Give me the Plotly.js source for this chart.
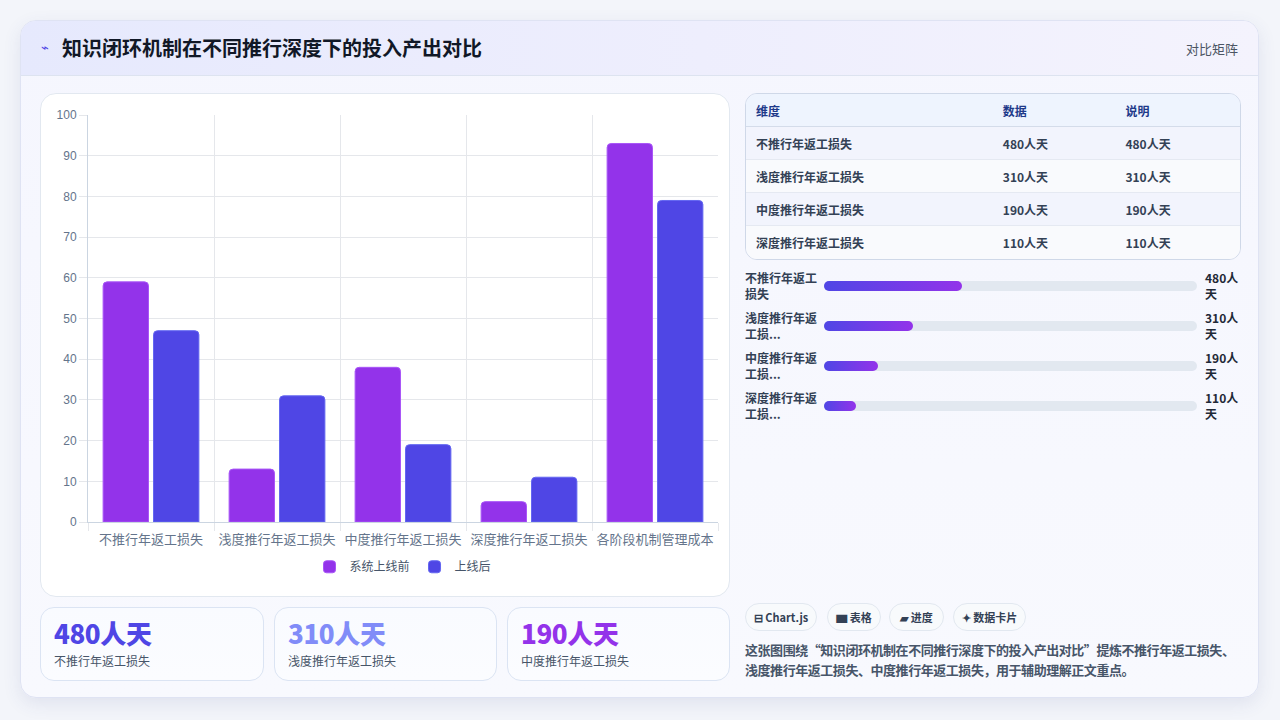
<!DOCTYPE html>
<html lang="zh">
<head>
<meta charset="utf-8">
<script src="https://cdn.plot.ly/plotly-3.0.1.min.js"></script>
<style>
  * { box-sizing: border-box; margin: 0; padding: 0; }
  body {
    width: 1280px; height: 720px; overflow: hidden;
    background: #f3f5fa;
    font-family: "Noto Sans CJK SC", "Noto Sans", sans-serif;
    color: #1f2937;
  }
  .card {
    position: absolute; left: 20px; top: 20px; width: 1239px; height: 678px;
    border-radius: 16px; border: 1px solid #dfe3f3;
    background: linear-gradient(180deg, #f5f6fe 0%, #f8f9fe 100%);
    box-shadow: 0 6px 18px rgba(60, 70, 140, 0.10);
    overflow: hidden;
  }
  .header {
    position: absolute; left: 0; top: 0; width: 100%; height: 55px;
    background: linear-gradient(90deg, #e6e9fd 0%, #eeeefd 55%, #f4f3fd 100%);
    border-bottom: 1px solid #dde3f0;
  }
  .header .icon { position: absolute; left: 20px; top: 16px; font-size: 13px; color: #4f46e5; }
  .header h1 { position: absolute; left: 41px; top: 13px; font-size: 20px; font-weight: 700; color: #111827; line-height: 28px; }
  .header .tag { position: absolute; right: 20px; top: 18px; font-size: 13px; color: #4b5563; }
  .chartbox {
    position: absolute; left: 19px; top: 72px; width: 690px; height: 504px;
    background: #ffffff; border: 1px solid #e2e8f0; border-radius: 16px;
  }
  #chart { position: absolute; left: 0; top: 0; width: 688px; height: 502px; }
  .kpi {
    position: absolute; top: 586px; height: 74px;
    border: 1px solid #dbe4f3; border-radius: 14px;
    background: linear-gradient(180deg, #f9fbff 0%, #fbfcff 100%);
  }
  .kpi .num { position: absolute; left: 13px; top: 8px; font-size: 26px; font-weight: 800; line-height: 34px; letter-spacing: -0.4px; }
  .kpi .lbl { position: absolute; left: 13px; top: 44px; font-size: 12px; color: #475569; line-height: 18px; }
  table.tbl {
    position: absolute; left: 724px; top: 72px; width: 496px;
    border-collapse: separate; border-spacing: 0;
    border: 1px solid #cfd8e8; border-radius: 12px; overflow: hidden;
    font-size: 12px; font-weight: 700;
  }
  table.tbl th, table.tbl td { height: 33px; padding: 0 10px; text-align: left; }
  table.tbl th { background: #eef4fe; color: #1e3a8a; border-bottom: 1px solid #d4dcea; }
  table.tbl td { color: #334155; border-bottom: 1px solid #e5e9f2; }
  table.tbl tr:last-child td { border-bottom: none; }
  table.tbl tbody tr:nth-child(odd) td { background: #f2f4fd; }
  table.tbl tbody tr:nth-child(even) td { background: #f9fafd; }
  .prog { position: absolute; left: 724px; width: 496px; height: 40px; }
  .prog .pl { position: absolute; left: 0; top: 0; width: 74px; font-size: 12px; font-weight: 700; color: #334155; line-height: 16px; }
  .prog .track { position: absolute; left: 79px; top: 11px; width: 373px; height: 10px; border-radius: 5px; background: #e2e8f0; }
  .prog .fill { position: absolute; left: 0; top: 0; height: 10px; border-radius: 5px; background: linear-gradient(90deg, #4f46e5, #9333ea); }
  .prog .pv { position: absolute; left: 460px; top: 0; width: 36px; font-size: 12px; font-weight: 700; color: #1f2937; line-height: 16px; }
  .pill {
    position: absolute; top: 582px; height: 28px; line-height: 26px;
    border: 1px solid #e2e8f0; border-radius: 14px; background: #f8fafc;
    font-size: 11px; font-weight: 700; color: #334155; text-align: center;
  }
  .desc { position: absolute; left: 724px; top: 619px; width: 500px; font-size: 13px; font-weight: 700; color: #475569; line-height: 20px; letter-spacing: -0.45px; }
</style>
</head>
<body>
<div class="card">
  <div class="header">
    <span class="icon">⌁</span>
    <h1>知识闭环机制在不同推行深度下的投入产出对比</h1>
    <span class="tag">对比矩阵</span>
  </div>
  <div class="chartbox"><div id="chart"></div></div>
  <div id="kpis"></div>
  <table class="tbl" id="tbl"></table>
  <div id="progs"></div>
  <div class="pill" style="left:724px;width:72px;">⊟ Chart.js</div>
  <div class="pill" style="left:806px;width:54px;">▆ 表格</div>
  <div class="pill" style="left:868px;width:55px;">▰ 进度</div>
  <div class="pill" style="left:932px;width:73px;">✦ 数据卡片</div>
  <div class="desc">这张图围绕“知识闭环机制在不同推行深度下的投入产出对比”提炼不推行年返工损失、浅度推行年返工损失、中度推行年返工损失，用于辅助理解正文重点。</div>
</div>
<script>
// chart data
const categories = ['不推行年返工损失', '浅度推行年返工损失', '中度推行年返工损失', '深度推行年返工损失', '各阶段机制管理成本'];
const seriesNames = ['系统上线前', '上线后'];
const beforeValues = [59, 13, 38, 5, 93];
const afterValues = [47, 31, 19, 11, 79];

// table / progress / kpi data
const tableHeaders = ['维度', '数据', '说明'];
const itemNames = ['不推行年返工损失', '浅度推行年返工损失', '中度推行年返工损失', '深度推行年返工损失'];
const itemValues = [480, 310, 190, 110];
const progressLabels = ['不推行年返工\n损失', '浅度推行年返\n工损...', '中度推行年返\n工损...', '深度推行年返\n工损...'];
const unit = '人天';
const progressMax = 1300;

// table
let html = '<thead><tr>' + tableHeaders.map((h, i) =>
  '<th style="width:' + [248, 123, 125][i] + 'px">' + h + '</th>').join('') + '</tr></thead><tbody>';
for (let i = 0; i < itemNames.length; i++) {
  html += '<tr><td>' + itemNames[i] + '</td><td>' + itemValues[i] + unit + '</td><td>' + itemValues[i] + unit + '</td></tr>';
}
document.getElementById('tbl').innerHTML = html + '</tbody>';

// progress rows
let ph = '';
for (let i = 0; i < itemValues.length; i++) {
  let pct = itemValues[i] / progressMax * 100;
  ph += '<div class="prog" style="top:' + (249 + i * 40) + 'px">' +
    '<div class="pl">' + progressLabels[i].replace('\n', '<br>') + '</div>' +
    '<div class="track"><div class="fill" style="width:' + pct.toFixed(1) + '%"></div></div>' +
    '<div class="pv">' + itemValues[i] + '人<br>天</div></div>';
}
document.getElementById('progs').innerHTML = ph;

// kpi cards (first three items)
const kpiColors = ['#4f46e5', '#818cf8', '#9333ea'];
const kpiLeft = [19, 253, 486];
const kpiWidth = [224, 223, 223];
let kh = '';
for (let i = 0; i < 3; i++) {
  kh += '<div class="kpi" style="left:' + kpiLeft[i] + 'px;width:' + kpiWidth[i] + 'px">' +
    '<div class="num" style="color:' + kpiColors[i] + '">' + itemValues[i] + unit + '</div>' +
    '<div class="lbl">' + itemNames[i] + '</div></div>';
}
document.getElementById('kpis').innerHTML = kh;

// bar chart
const tickFont = { family: '"Liberation Sans", "Noto Sans CJK SC", sans-serif', size: 12, color: '#64748b' };
let traceBefore = {
  x: categories, y: beforeValues, name: seriesNames[0], type: 'bar',
  marker: { color: '#9333ea', line: { color: '#a855f7', width: 1 } }
};
let traceAfter = {
  x: categories, y: afterValues, name: seriesNames[1], type: 'bar',
  marker: { color: '#4f46e5', line: { color: '#6366f1', width: 1 } }
};

let layout = {
  width: 688, height: 502,
  margin: { l: 47, r: 11, t: 21, b: 74 },
  paper_bgcolor: 'rgba(0,0,0,0)', plot_bgcolor: 'rgba(0,0,0,0)',
  barmode: 'group', bargap: 0.2, bargroupgap: 0.1, barcornerradius: 4,
  font: tickFont,
  xaxis: {
    type: 'category', tickson: 'boundaries', showgrid: true, gridcolor: '#e5e7eb',
    ticks: 'outside', ticklen: 8, tickcolor: '#e5e7eb', tickangle: 0, automargin: false,
    ticklabelstandoff: 5,
    showline: true, linecolor: '#cbd5e1', linewidth: 1,
    tickfont: { family: tickFont.family, size: 13, color: '#64748b' }
  },
  yaxis: {
    range: [0, 100], dtick: 10, showgrid: true, gridcolor: '#e5e7eb',
    ticks: 'outside', ticklen: 8, tickcolor: '#e5e7eb', zeroline: false,
    showline: true, linecolor: '#cbd5e1', linewidth: 1,
    tickfont: { family: tickFont.family, size: 12, color: '#64748b' }
  },
  showlegend: true,
  legend: {
    orientation: 'h', x: 0.5, xanchor: 'center', y: -0.11, yanchor: 'middle',
    font: { family: tickFont.family, size: 12, color: '#475569' }, itemwidth: 30
  }
};

Plotly.newPlot('chart', [traceBefore, traceAfter], layout, { displayModeBar: false, staticPlot: true });
</script>
</body>
</html>
